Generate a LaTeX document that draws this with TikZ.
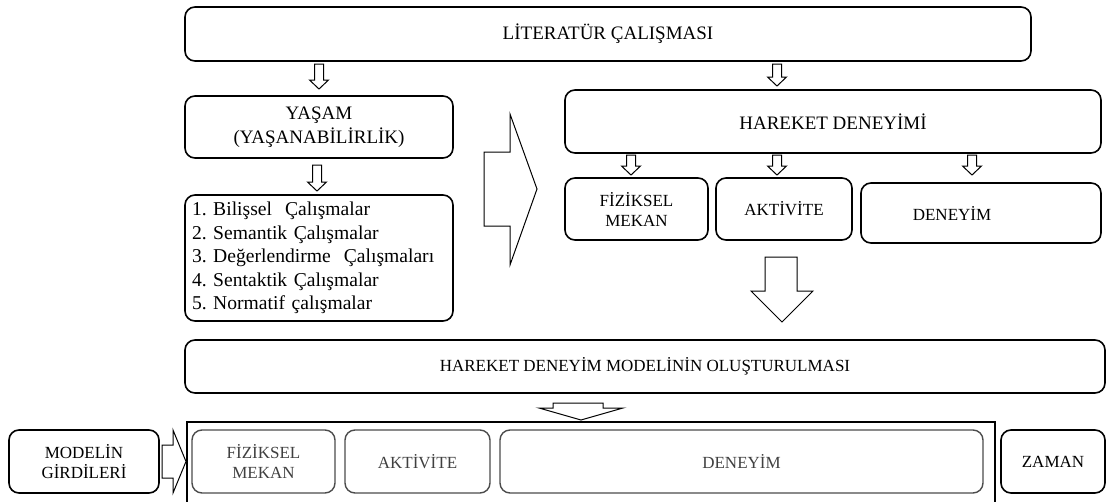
\documentclass[tikz,border=0pt]{standalone}
\usepackage{fontspec}
\setmainfont{Liberation Serif}
\begin{document}
\frenchspacing
\begin{tikzpicture}[x=1pt,y=-1pt,
  box/.style={draw, line width=1.6pt, rounded corners=10pt, fill=white,
    align=center, inner sep=0pt},
  graybox/.style={box, draw=black!70, line width=1.4pt, text=black!75},
  hollow/.style={draw, line width=1pt, fill=white, line join=miter},
  big/.style={font=\fontsize{19}{24}\selectfont},
  listfont/.style={font=\fontsize{19.6}{23.6}\selectfont},
  small/.style={font=\fontsize{17}{20}\selectfont}]
\useasboundingbox (0,0) rectangle (1109,501);

% down-pointing hollow block arrow: centre x, top y, tip y
\newcommand{\downblock}[3]{%
  \draw[hollow] (#1-4.5,#2) -- (#1+4.5,#2) -- (#1+4.5,#3-9) -- (#1+9.5,#3-9)
    -- (#1,#3) -- (#1-9.5,#3-9) -- (#1-4.5,#3-9) -- cycle;}

% top level
\node[box, big, minimum width=846, minimum height=54] (lit) at (608,34) {LİTERATÜR ÇALIŞMASI};

% left column
\node[box, big, minimum width=268, minimum height=62] (yasam) at (319,127)
  {YAŞAM\\(YAŞANABİLİRLİK)};
\node[box, listfont, minimum width=268, minimum height=126, align=left,
  text width=254, inner xsep=7pt] (list) at (319,258)
  {1. Bilişsel\ \ Çalışmalar\\
   2. Semantik Çalışmalar\\
   3. Değerlendirme\ \ Çalışmaları\\
   4. Sentaktik Çalışmalar\\
   5. Normatif çalışmalar};

% right column
\node[box, big, minimum width=536, minimum height=63] (hd) at (833,121.5) {HAREKET DENEYİMİ};
\node[box, small, minimum width=143, minimum height=62] (fm) at (636.5,209) {FİZİKSEL\\MEKAN};
\node[box, small, minimum width=136, minimum height=62] (ak) at (784,209) {AKTİVİTE};
\node[box, minimum width=240, minimum height=60] (dn) at (981,213) {};
\node[small] (dntext) at (952,213) {DENEYİM};

% model
\node[box, small, minimum width=920, minimum height=53] (model) at (645,366.5)
  {HAREKET DENEYİM MODELİNİN OLUŞTURULMASI};

% model inputs frame
\draw[line width=1.8pt] (187,503) -- (187,422) -- (995,422) -- (995,503);
\node[box, small, minimum width=150, minimum height=63] (mg) at (84,461.5) {MODELİN\\GİRDİLERİ};
\node[graybox, small, minimum width=143, minimum height=63] (ifm) at (263.5,461.5) {FİZİKSEL\\MEKAN};
\node[graybox, small, minimum width=145, minimum height=63] (iak) at (417.5,461.5) {AKTİVİTE};
\node[graybox, small, minimum width=483, minimum height=63] (idn) at (741.5,461.5) {DENEYİM};
\node[box, small, minimum width=104, minimum height=63] (zaman) at (1053,461.5) {ZAMAN};

% small block arrows
\downblock{319}{64}{89}
\downblock{777}{64}{86}
\downblock{317}{165}{191}
\downblock{631}{155}{175}
\downblock{777}{155}{175}
\downblock{972}{155}{175}

% large right arrow between columns
\draw[hollow] (484,152) -- (510,152) -- (510,114) -- (537,189) -- (510,265)
  -- (510,226) -- (484,226) -- cycle;
% large down arrow to the model
\draw[hollow] (765,257) -- (797,257) -- (797,291) -- (813,291) -- (782,322)
  -- (751,291) -- (765,291) -- cycle;
% flat arrow into the frame
\draw[hollow] (553,403) -- (603,403) -- (603,408) -- (623,408) -- (581,420)
  -- (539,408) -- (553,408) -- cycle;
% arrow from model inputs
\draw[hollow] (162,445) -- (173,445) -- (173,430) -- (186,461.5) -- (173,493)
  -- (173,478) -- (162,478) -- cycle;
\end{tikzpicture}
\end{document}
